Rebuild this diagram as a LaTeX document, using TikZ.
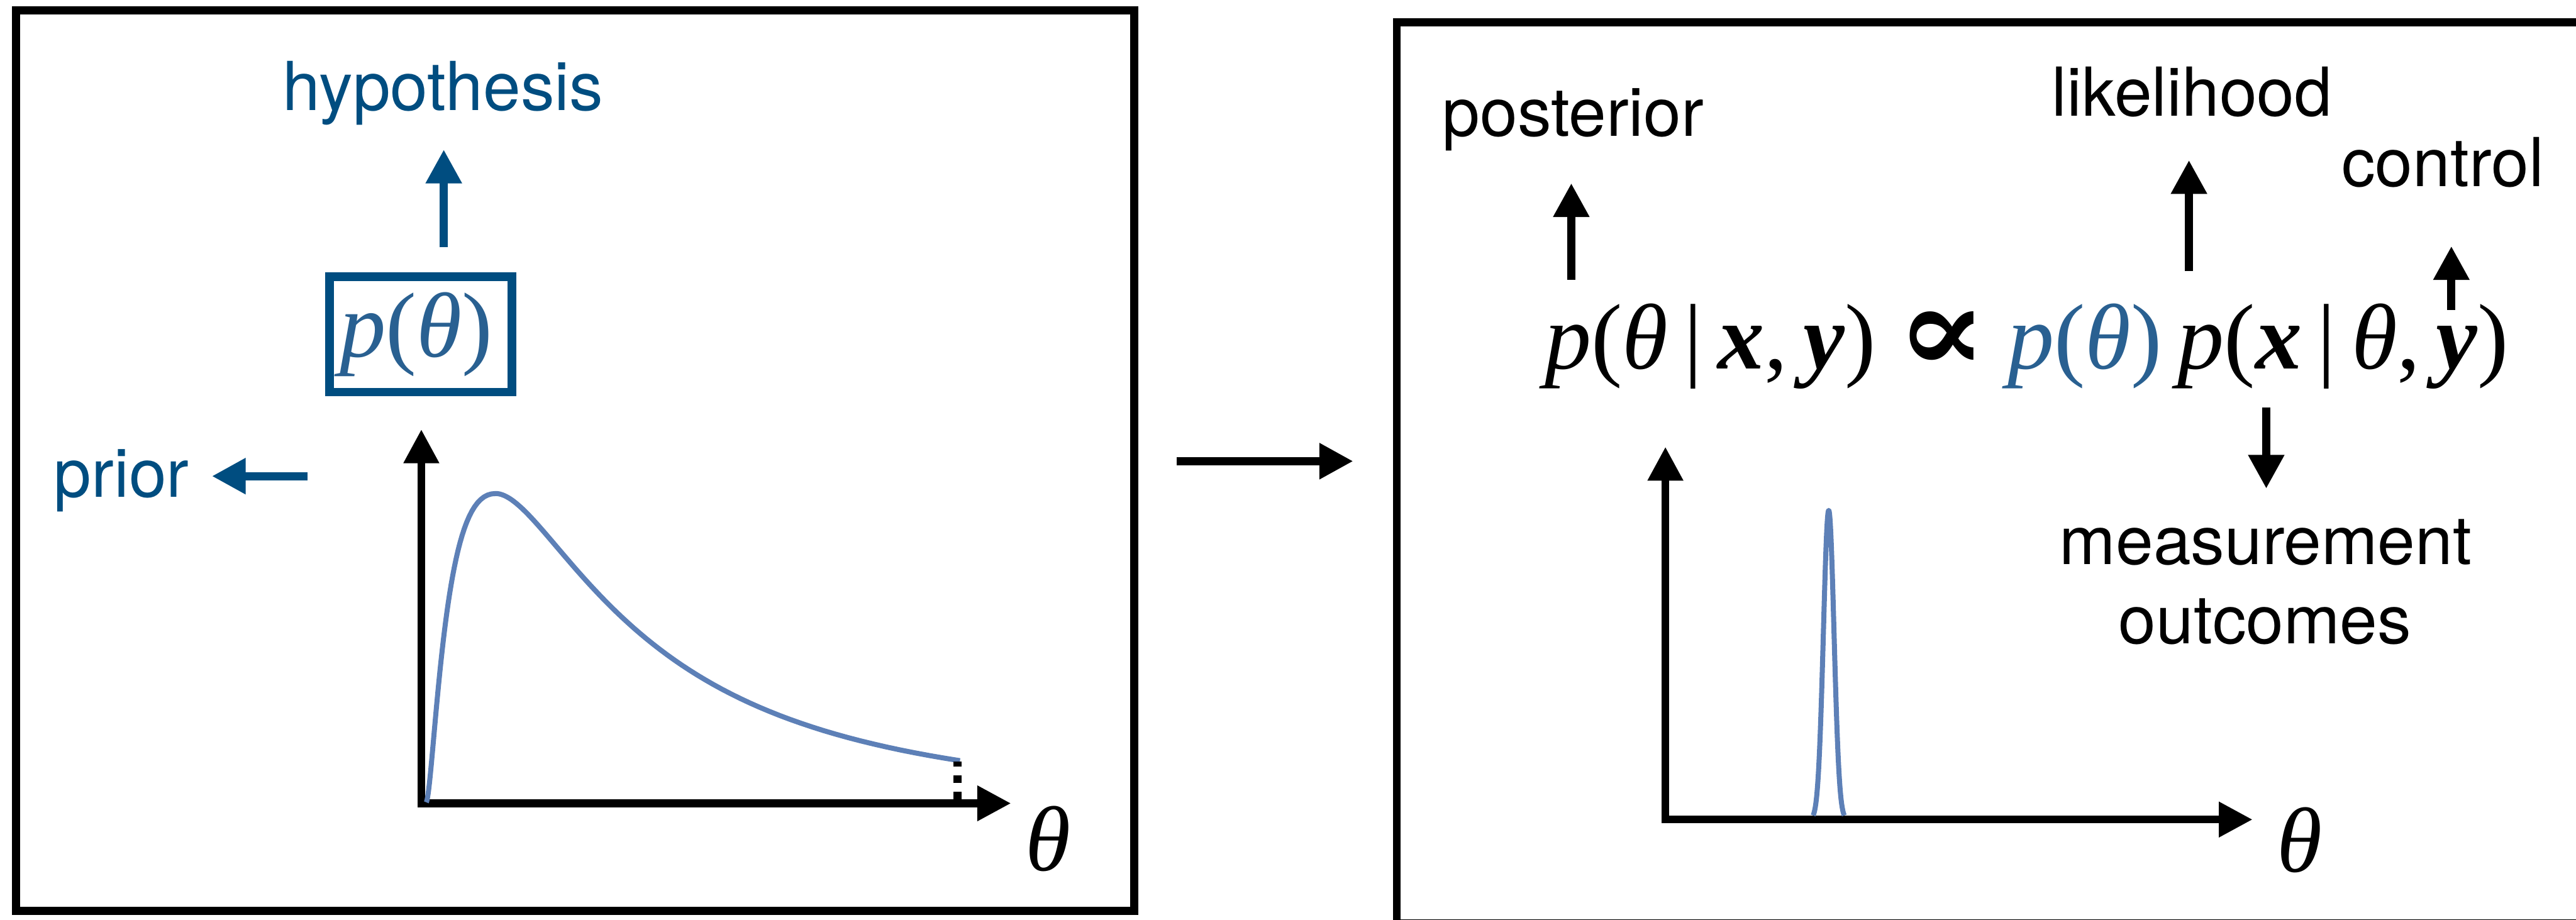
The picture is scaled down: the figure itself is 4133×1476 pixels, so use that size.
\documentclass[tikz,border=0pt]{standalone}
\usepackage{graphicx}
\usepackage{fontspec}
\setmainfont{TeX Gyre Heros}
\newfontfamily\tms{Liberation Serif}
\newfontfamily\djs{DejaVu Serif}
\usetikzlibrary{arrows.meta}
\definecolor{dblue}{RGB}{0,77,128}
\definecolor{tblue}{RGB}{41,96,145}
\definecolor{cblue}{RGB}{93,128,183}
\newcommand{\lblfont}{\fontsize{30.8}{36}\selectfont}
\newcommand{\eqfont}{\fontsize{42.1}{50}\selectfont\tms}
\newcommand{\bigeqfont}{\fontsize{42.5}{50}\selectfont\tms}
\newcommand{\ti}[1]{{\itshape #1}}
\newcommand{\tb}[1]{{\bfseries\itshape #1}}
\newcommand{\thet}{{\itshape θ\/}}
\newcommand{\propsym}{\raisebox{-1.5pt}{\scalebox{1.45}[1.3]{\djs\bfseries ∝}}}
\tikzset{
  frame/.style={line width=3.7pt},
  axisarr/.style={line width=3.5pt, line cap=rect, -{Triangle[length=15.4pt,width=15.4pt]}},
  lblarr/.style={line width=3.7pt, -{Triangle[length=15.4pt,width=15.6pt]}},
  lbl/.style={font=\lblfont, inner sep=0pt, anchor=base},
  mathlbl/.style={font=\eqfont, inner sep=0pt},
  pdfcurve/.style={cblue, line width=2.3pt, line join=round}
}
\begin{document}
\begin{tikzpicture}[x=0.01cm,y=-0.01cm]
\useasboundingbox (0,0) rectangle (4133,1476);
\clip (0,0) rectangle (4133,1476);
% frames
\draw[frame] (26,17) rectangle (1820,1462);
\draw[frame] (2241,36) rectangle (4150,1482);

% ---------- left panel ----------
\node[lbl, dblue] (hyp) at (711,177) {hypothesis};
\node[lbl, dblue] (prior) at (195,798) {prior};
\node[draw=dblue, line width=3.85pt, minimum width=83.2pt, minimum height=52.6pt, inner sep=0pt,
      font=\eqfont, text=tblue] (pbox) at (675,536.5) {\ti{p}(\thet)\hspace*{4pt}};
\coordinate (hypA) at (712,397);
\coordinate (hypB) at (712,240);
\draw[lblarr, dblue] (hypA) -- (hypB);
\coordinate (priA) at (493,764);
\coordinate (priB) at (340,764);
\draw[lblarr, dblue] (priA) -- (priB);

\coordinate (o1) at (676,1289);
\coordinate (yt1) at (676,689);
\coordinate (xt1) at (1622,1289);
\draw[axisarr] (o1) -- (yt1);
\draw[axisarr] (o1) -- (xt1);
\node[mathlbl] (th1) at (1682,1346) {\thet};

% prior density (skewed, log-normal like)
\draw[pdfcurve]
  plot[domain=0.7:4.727, samples=70] ({682+exp(\x)},{1289-497*exp(-(\x-4.727)*(\x-4.727)/2.84)})
  -- plot[domain=4.727:6.755, samples=70] ({682+exp(\x)},{1289-497*exp(-(\x-4.727)*(\x-4.727)/2.074)});
\coordinate (dotA) at (1536,1283);
\coordinate (dotB) at (1536,1222);
\draw[line width=3.7pt, dash pattern=on 3.55pt off 3.95pt] (dotA) -- (dotB);

% middle arrow
\coordinate (midA) at (1888,740);
\coordinate (midB) at (2171,740);
\draw[lblarr] (midA) -- (midB);

% ---------- right panel ----------
\node[inner sep=0pt, font=\bigeqfont, anchor=base west] (eq) at (2478,592)
  {\ti{p}(\thet\,|\,\tb{x},\,\tb{y}\/)\hspace{0.22em}\propsym\hspace{0.22em}{\color{tblue}\ti{p}(\thet)}\,\ti{p}(\tb{x}\,|\,\thet,\,\tb{y}\/)};
\node[lbl] (post) at (2524,218) {posterior};
\node[lbl] (lik) at (3517,186) {likelihood};
\node[lbl] (ctrl) at (3919,299) {control};
\node[lbl] (meas) at (3635,906) {measurement};
\node[lbl] (outc) at (3634,1033) {outcomes};

\coordinate (postA) at (2521,449);
\coordinate (postB) at (2521,294);
\draw[lblarr] (postA) -- (postB);
\coordinate (likA) at (3512,435);
\coordinate (likB) at (3512,257);
\draw[lblarr] (likA) -- (likB);
\coordinate (ctrlA) at (3933,497);
\coordinate (ctrlB) at (3933,395);
\draw[lblarr] (ctrlA) -- (ctrlB);
\coordinate (measA) at (3636,654);
\coordinate (measB) at (3636,784);
\draw[lblarr] (measA) -- (measB);

\coordinate (o2) at (2672,1315);
\coordinate (yt2) at (2672,717);
\coordinate (xt2) at (3614,1315);
\draw[axisarr] (o2) -- (yt2);
\draw[axisarr] (o2) -- (xt2);
\node[mathlbl] (th2) at (3690,1348) {\thet};
\draw[pdfcurve] plot[domain=-25:25, samples=101, smooth] ({2934+\x},{1315-496*exp(-(\x*\x)/144.5)});
\end{tikzpicture}
\end{document}
